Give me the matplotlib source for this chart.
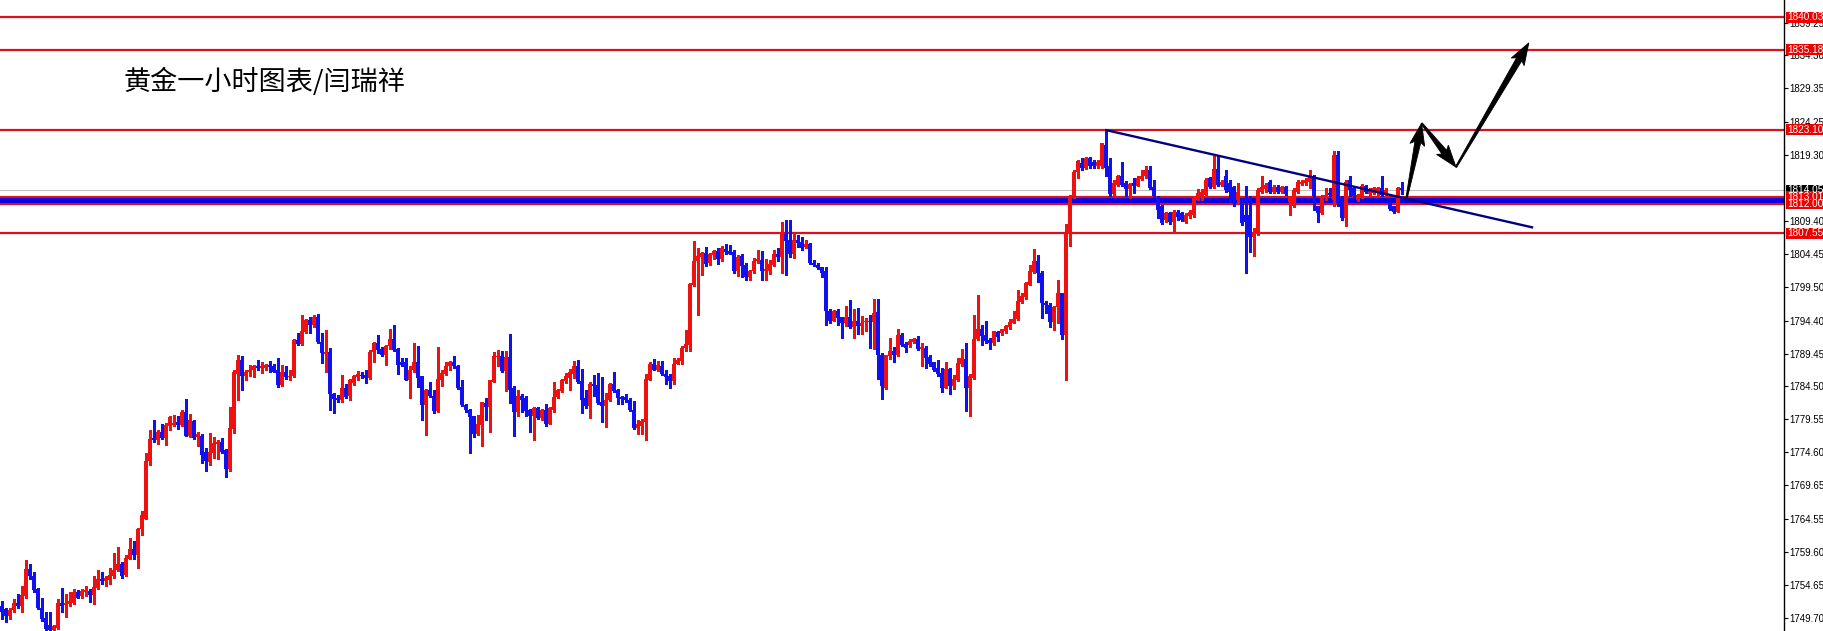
import matplotlib
matplotlib.use('Agg')
import matplotlib.pyplot as plt
import numpy as np
from matplotlib.patches import Polygon, Rectangle
from matplotlib.transforms import IdentityTransform, blended_transform_factory

# ---------------- data (XAUUSD 1H candles) ----------------
opens = [
    1751.4, 1751.0, 1750.0, 1750.8, 1751.9, 1751.5, 1753.0, 1757.0, 1756.0, 1754.0,
    1751.2, 1749.7, 1748.6, 1747.9, 1748.2, 1751.9, 1751.6, 1751.7, 1751.9, 1753.6,
    1752.9, 1753.5, 1753.7, 1753.1, 1754.2, 1755.5, 1755.2, 1755.4, 1756.0, 1756.9,
    1757.7, 1756.1, 1758.6, 1760.0, 1759.2, 1763.0, 1764.6, 1773.2, 1776.7, 1776.5,
    1777.7, 1776.7, 1778.6, 1778.7, 1779.2, 1778.7, 1780.6, 1777.0, 1779.3, 1776.9,
    1777.1, 1774.6, 1773.1, 1774.5, 1775.9, 1776.2, 1774.9, 1772.0, 1778.1, 1786.4,
    1788.5, 1786.0, 1786.6, 1786.9, 1787.5, 1787.2, 1787.3, 1787.7, 1787.5, 1786.9,
    1784.7, 1786.7, 1785.9, 1786.0, 1791.5, 1790.9, 1792.7, 1794.5, 1793.7, 1795.0,
    1791.2, 1789.4, 1789.7, 1783.3, 1782.7, 1782.4, 1784.3, 1783.0, 1785.0, 1785.9,
    1786.2, 1786.2, 1785.8, 1789.7, 1791.1, 1790.2, 1789.2, 1790.6, 1791.6, 1790.1,
    1788.1, 1788.1, 1785.5, 1786.9, 1788.2, 1786.0, 1781.7, 1783.9, 1783.1, 1780.8,
    1785.5, 1786.4, 1787.5, 1788.2, 1787.5, 1784.4, 1781.7, 1781.0, 1780.0, 1777.4,
    1778.7, 1782.0, 1781.4, 1785.2, 1788.9, 1789.1, 1786.8, 1788.9, 1784.3, 1780.6,
    1783.1, 1782.7, 1780.9, 1780.0, 1781.2, 1779.7, 1781.0, 1778.9, 1780.9, 1782.9,
    1783.8, 1785.3, 1785.8, 1786.4, 1787.5, 1785.3, 1782.7, 1781.6, 1784.9, 1784.7,
    1782.2, 1781.5, 1782.4, 1784.9, 1783.9, 1782.9, 1782.9, 1782.5, 1781.0, 1778.3,
    1778.6, 1779.1, 1785.5, 1787.9, 1786.9, 1787.6, 1786.4, 1786.0, 1785.3, 1787.9,
    1788.3, 1790.3, 1790.8, 1799.8, 1803.3, 1804.0, 1804.6, 1803.0, 1804.3, 1804.9,
    1803.6, 1805.2, 1804.9, 1804.8, 1801.9, 1804.1, 1802.8, 1801.0, 1801.8, 1803.3,
    1803.5, 1801.8, 1801.9, 1802.8, 1804.4, 1804.0, 1807.4, 1806.5, 1804.5, 1806.6,
    1806.2, 1805.5, 1805.9, 1803.1, 1802.8, 1802.4, 1801.8, 1795.9, 1794.4, 1795.9,
    1794.9, 1794.0, 1795.0, 1793.5, 1794.4, 1793.6, 1794.2, 1794.3, 1794.2, 1795.7,
    1789.3, 1784.3, 1789.1, 1789.9, 1789.2, 1792.3, 1790.9, 1790.8, 1791.2, 1791.7,
    1790.1, 1790.3, 1788.9, 1788.1, 1787.2, 1786.5, 1784.3, 1787.1, 1784.6, 1785.5,
    1787.8, 1788.6, 1784.2, 1785.8, 1791.6, 1793.1, 1792.2, 1791.5, 1791.0, 1792.7,
    1792.6, 1792.8, 1793.5, 1794.1, 1794.6, 1797.2, 1798.0, 1799.8, 1801.7, 1803.3,
    1801.6, 1797.1, 1796.7, 1794.2, 1796.5, 1798.5, 1792.3, 1807.6, 1813.1, 1816.8,
    1818.1, 1817.3, 1818.8, 1818.3, 1817.7, 1817.6, 1820.8, 1817.6, 1813.4, 1814.8,
    1816.1, 1815.1, 1814.2, 1815.1, 1814.7, 1815.7, 1816.1, 1817.1, 1814.5, 1812.9,
    1811.6, 1809.5, 1810.6, 1809.2, 1810.8, 1810.6, 1809.2, 1810.1, 1810.3, 1812.6,
    1813.2, 1813.3, 1815.8, 1814.5, 1817.2, 1814.8, 1816.2, 1815.1, 1814.5, 1812.6,
    1812.6, 1810.3, 1810.3, 1807.0, 1807.6, 1813.8, 1814.2, 1815.2, 1813.8, 1814.5,
    1813.8, 1814.5, 1812.3, 1811.6, 1813.8, 1815.0, 1815.1, 1815.3, 1816.1, 1811.6,
    1810.6, 1813.0, 1813.6, 1812.6, 1819.3, 1812.8, 1809.8, 1815.6, 1814.3, 1812.6,
    1813.1, 1814.7, 1813.5, 1813.6, 1813.6, 1814.3, 1813.3, 1812.1, 1811.6, 1810.8,
    1814.4,
]
highs = [
    1752.2, 1751.2, 1751.2, 1752.5, 1753.3, 1754.5, 1758.3, 1757.7, 1756.5, 1754.2,
    1752.7, 1750.5, 1750.5, 1748.6, 1752.5, 1754.1, 1753.2, 1753.5, 1754.0, 1753.8,
    1754.0, 1754.4, 1754.0, 1756.0, 1756.9, 1756.5, 1755.9, 1757.2, 1759.4, 1760.4,
    1758.0, 1759.2, 1761.7, 1761.2, 1763.2, 1765.8, 1774.5, 1778.0, 1779.4, 1778.0,
    1778.9, 1779.0, 1780.1, 1780.2, 1780.1, 1780.9, 1782.6, 1780.4, 1779.5, 1777.7,
    1777.3, 1775.2, 1777.5, 1776.9, 1776.5, 1776.8, 1775.1, 1781.4, 1786.9, 1789.2,
    1789.1, 1786.9, 1787.7, 1787.7, 1788.4, 1788.1, 1787.9, 1788.3, 1787.8, 1788.7,
    1787.7, 1787.6, 1786.9, 1791.6, 1792.5, 1795.2, 1794.7, 1795.0, 1795.2, 1795.4,
    1792.5, 1793.0, 1790.3, 1783.5, 1783.2, 1786.2, 1784.9, 1785.6, 1786.2, 1786.8,
    1786.7, 1786.9, 1790.0, 1791.2, 1792.2, 1790.5, 1790.7, 1793.2, 1793.7, 1790.3,
    1788.7, 1788.7, 1787.5, 1791.1, 1790.6, 1786.1, 1784.1, 1785.2, 1784.0, 1790.4,
    1786.9, 1788.2, 1788.3, 1789.0, 1787.7, 1785.5, 1781.9, 1781.1, 1780.1, 1780.2,
    1782.2, 1782.7, 1785.5, 1789.7, 1790.0, 1789.9, 1789.9, 1792.4, 1784.5, 1783.9,
    1783.4, 1783.1, 1781.1, 1781.4, 1781.4, 1781.1, 1781.8, 1781.4, 1785.2, 1784.1,
    1785.6, 1786.5, 1787.1, 1788.3, 1788.4, 1787.1, 1784.0, 1785.1, 1786.2, 1786.5,
    1785.9, 1783.5, 1785.0, 1786.7, 1784.1, 1783.1, 1783.3, 1782.7, 1782.3, 1779.4,
    1779.6, 1786.3, 1788.1, 1788.6, 1788.3, 1788.3, 1787.0, 1786.3, 1788.8, 1788.8,
    1790.6, 1793.0, 1800.1, 1806.4, 1805.3, 1804.8, 1805.5, 1804.6, 1805.0, 1805.4,
    1805.6, 1806.0, 1805.8, 1805.0, 1804.3, 1804.5, 1803.0, 1802.0, 1803.8, 1805.0,
    1804.9, 1803.6, 1803.5, 1805.0, 1805.3, 1809.3, 1809.5, 1809.5, 1807.4, 1807.3,
    1807.0, 1806.5, 1806.1, 1803.5, 1803.0, 1802.5, 1802.5, 1796.1, 1796.0, 1796.1,
    1795.0, 1796.6, 1797.5, 1796.1, 1796.3, 1795.1, 1794.8, 1795.3, 1797.7, 1797.7,
    1789.6, 1789.3, 1791.8, 1790.5, 1793.1, 1792.6, 1791.2, 1791.6, 1791.8, 1792.1,
    1791.1, 1790.6, 1789.2, 1788.2, 1788.5, 1787.3, 1788.1, 1787.2, 1786.2, 1788.8,
    1790.2, 1791.0, 1786.3, 1795.2, 1798.2, 1793.7, 1794.3, 1791.8, 1792.9, 1792.8,
    1793.2, 1793.8, 1794.6, 1795.8, 1799.0, 1798.6, 1800.2, 1802.7, 1805.2, 1804.2,
    1801.8, 1797.3, 1797.0, 1796.6, 1800.5, 1798.6, 1809.0, 1813.3, 1817.1, 1818.6,
    1818.8, 1819.0, 1819.0, 1818.6, 1818.6, 1821.2, 1823.1, 1818.8, 1815.6, 1816.3,
    1818.2, 1815.4, 1815.1, 1815.8, 1816.1, 1817.1, 1817.6, 1817.6, 1815.6, 1813.2,
    1811.8, 1810.8, 1810.8, 1811.1, 1811.1, 1810.8, 1810.6, 1811.0, 1813.1, 1814.2,
    1814.2, 1815.8, 1816.0, 1819.1, 1819.2, 1815.6, 1817.1, 1815.6, 1814.7, 1815.1,
    1812.7, 1814.7, 1813.1, 1808.3, 1814.3, 1816.2, 1815.1, 1815.6, 1814.8, 1814.8,
    1814.7, 1814.7, 1813.1, 1814.3, 1815.6, 1815.6, 1815.8, 1817.0, 1816.3, 1811.7,
    1813.3, 1814.3, 1814.3, 1820.0, 1820.0, 1813.1, 1815.6, 1816.2, 1814.5, 1813.5,
    1815.0, 1814.8, 1814.3, 1814.5, 1814.5, 1816.1, 1814.3, 1812.3, 1811.7, 1814.5,
    1815.3,
]
lows = [
    1749.5, 1749.0, 1749.5, 1750.5, 1751.2, 1750.5, 1752.7, 1755.5, 1753.5, 1751.0,
    1749.2, 1747.8, 1747.7, 1747.7, 1748.0, 1750.5, 1749.8, 1751.5, 1751.7, 1752.6,
    1752.7, 1753.0, 1752.0, 1751.7, 1754.0, 1754.7, 1754.5, 1754.7, 1755.6, 1756.7,
    1755.7, 1756.0, 1758.5, 1758.5, 1757.1, 1762.2, 1764.5, 1772.6, 1776.2, 1775.9,
    1776.6, 1775.7, 1778.0, 1778.5, 1778.1, 1778.6, 1777.0, 1776.9, 1776.6, 1775.5,
    1773.0, 1771.7, 1772.7, 1773.7, 1773.6, 1774.5, 1770.8, 1771.7, 1777.5, 1782.5,
    1783.9, 1785.4, 1786.0, 1785.9, 1787.0, 1786.5, 1786.9, 1786.7, 1786.6, 1784.4,
    1784.5, 1785.6, 1785.5, 1785.9, 1790.7, 1790.7, 1792.5, 1792.5, 1793.5, 1791.1,
    1788.0, 1786.6, 1781.0, 1780.5, 1782.2, 1782.2, 1782.7, 1782.5, 1784.7, 1785.5,
    1785.7, 1785.0, 1785.6, 1788.2, 1789.5, 1789.0, 1787.7, 1790.2, 1789.9, 1786.4,
    1787.6, 1785.4, 1782.7, 1786.7, 1784.4, 1779.5, 1777.2, 1782.9, 1780.5, 1780.7,
    1784.6, 1786.2, 1787.0, 1787.3, 1784.1, 1781.6, 1780.6, 1774.5, 1776.9, 1777.2,
    1775.6, 1779.5, 1777.7, 1785.1, 1787.6, 1786.6, 1783.8, 1782.0, 1777.1, 1780.0,
    1780.6, 1780.1, 1777.6, 1776.4, 1779.6, 1779.5, 1778.6, 1778.8, 1780.6, 1782.8,
    1783.6, 1785.0, 1783.9, 1785.8, 1785.0, 1780.5, 1781.3, 1779.8, 1783.0, 1781.8,
    1779.1, 1778.4, 1782.3, 1783.6, 1781.8, 1781.8, 1782.1, 1780.8, 1778.1, 1777.3,
    1777.3, 1776.5, 1785.4, 1786.9, 1786.8, 1786.2, 1784.9, 1784.3, 1784.8, 1787.8,
    1787.8, 1789.9, 1789.8, 1799.6, 1795.3, 1801.3, 1802.6, 1802.8, 1803.6, 1802.9,
    1803.4, 1804.5, 1804.4, 1801.6, 1801.1, 1801.0, 1800.5, 1800.5, 1801.5, 1803.0,
    1800.5, 1800.5, 1801.4, 1802.6, 1803.3, 1801.6, 1801.3, 1804.0, 1803.8, 1805.5,
    1805.1, 1805.3, 1802.9, 1802.6, 1802.2, 1801.0, 1793.8, 1794.0, 1794.3, 1793.8,
    1791.8, 1793.6, 1793.3, 1791.8, 1792.4, 1792.4, 1792.8, 1790.3, 1790.1, 1785.6,
    1782.6, 1784.1, 1788.6, 1788.2, 1789.1, 1790.6, 1789.7, 1790.5, 1791.0, 1790.0,
    1787.6, 1787.3, 1787.5, 1786.8, 1786.0, 1783.7, 1784.2, 1783.3, 1784.1, 1785.3,
    1787.6, 1780.8, 1780.1, 1785.6, 1791.5, 1790.7, 1791.0, 1790.2, 1790.8, 1791.3,
    1792.3, 1792.6, 1793.2, 1794.0, 1794.5, 1797.0, 1797.7, 1799.7, 1801.6, 1800.2,
    1794.8, 1795.5, 1793.5, 1793.0, 1794.0, 1791.7, 1785.4, 1805.6, 1812.8, 1815.8,
    1817.1, 1817.2, 1817.3, 1817.4, 1817.3, 1817.3, 1816.2, 1813.2, 1813.1, 1814.6,
    1814.6, 1813.1, 1812.9, 1813.6, 1814.6, 1815.6, 1815.8, 1814.2, 1813.0, 1809.9,
    1809.0, 1809.3, 1809.0, 1807.8, 1809.6, 1809.4, 1809.1, 1809.9, 1810.0, 1812.5,
    1812.6, 1813.1, 1814.3, 1814.3, 1814.6, 1814.6, 1813.8, 1812.3, 1811.7, 1812.1,
    1808.8, 1801.6, 1804.8, 1804.1, 1807.3, 1813.6, 1813.7, 1813.6, 1813.6, 1813.6,
    1813.6, 1813.3, 1810.3, 1811.5, 1813.6, 1814.8, 1814.8, 1814.3, 1811.1, 1809.2,
    1810.5, 1812.6, 1813.1, 1811.7, 1811.6, 1809.6, 1808.6, 1813.1, 1812.9, 1812.4,
    1812.8, 1813.6, 1813.3, 1813.4, 1813.1, 1813.1, 1813.2, 1811.1, 1810.6, 1810.7,
    1813.5,
]
closes = [
    1750.6, 1750.0, 1750.8, 1751.9, 1751.5, 1753.1, 1757.0, 1755.9, 1753.9, 1751.1,
    1749.5, 1748.0, 1747.9, 1748.4, 1751.9, 1751.5, 1751.9, 1752.2, 1753.6, 1752.7,
    1753.7, 1753.8, 1753.1, 1754.3, 1755.5, 1755.2, 1755.6, 1756.1, 1756.9, 1757.7,
    1756.0, 1758.7, 1760.0, 1759.2, 1763.1, 1765.1, 1773.2, 1776.6, 1776.4, 1777.7,
    1776.8, 1778.7, 1779.9, 1779.0, 1778.7, 1780.6, 1777.1, 1779.4, 1776.7, 1777.4,
    1774.2, 1773.3, 1774.6, 1776.0, 1776.2, 1774.6, 1772.1, 1778.2, 1786.6, 1788.5,
    1786.0, 1786.7, 1787.0, 1787.5, 1787.2, 1787.6, 1787.7, 1787.4, 1786.7, 1784.7,
    1786.7, 1785.9, 1786.1, 1791.5, 1790.9, 1792.8, 1794.5, 1793.7, 1795.0, 1791.2,
    1789.5, 1789.7, 1783.3, 1782.6, 1782.4, 1784.2, 1782.9, 1785.4, 1786.0, 1786.4,
    1786.0, 1785.8, 1789.7, 1791.1, 1790.0, 1789.2, 1790.6, 1791.6, 1790.0, 1787.7,
    1787.7, 1785.5, 1787.0, 1788.2, 1785.8, 1781.7, 1783.9, 1783.0, 1780.8, 1785.6,
    1786.5, 1787.6, 1788.2, 1787.5, 1784.2, 1781.7, 1780.9, 1779.9, 1777.4, 1778.9,
    1782.1, 1781.4, 1785.4, 1789.1, 1789.1, 1786.8, 1788.9, 1784.0, 1780.6, 1783.1,
    1782.5, 1780.8, 1780.0, 1781.2, 1779.7, 1781.0, 1778.9, 1781.2, 1782.9, 1783.9,
    1785.4, 1786.0, 1786.6, 1787.5, 1785.2, 1782.5, 1781.6, 1784.9, 1784.5, 1782.0,
    1781.5, 1782.5, 1784.9, 1783.8, 1782.8, 1782.6, 1782.4, 1780.9, 1778.3, 1778.8,
    1779.3, 1785.6, 1787.9, 1787.0, 1787.7, 1786.3, 1785.9, 1785.3, 1787.9, 1788.4,
    1790.3, 1790.9, 1799.9, 1803.4, 1804.1, 1804.6, 1802.9, 1804.4, 1804.9, 1803.6,
    1805.4, 1804.7, 1804.5, 1801.9, 1804.0, 1802.6, 1801.0, 1801.9, 1803.4, 1803.6,
    1801.8, 1802.1, 1802.9, 1804.4, 1804.0, 1807.8, 1806.4, 1804.5, 1806.5, 1806.1,
    1805.4, 1806.0, 1803.0, 1802.8, 1802.3, 1801.6, 1795.8, 1794.4, 1795.8, 1794.8,
    1794.0, 1794.9, 1793.5, 1794.4, 1793.6, 1794.1, 1794.4, 1794.2, 1795.6, 1789.2,
    1784.5, 1789.2, 1789.9, 1789.2, 1792.3, 1790.8, 1790.3, 1791.3, 1791.7, 1790.1,
    1790.4, 1788.7, 1787.8, 1787.0, 1786.3, 1784.3, 1787.1, 1784.6, 1785.6, 1788.0,
    1788.7, 1784.2, 1786.0, 1791.7, 1793.1, 1792.1, 1791.3, 1791.0, 1792.8, 1792.0,
    1793.1, 1793.6, 1794.2, 1794.7, 1797.3, 1798.1, 1800.1, 1801.8, 1803.3, 1801.5,
    1797.1, 1796.7, 1794.2, 1796.5, 1798.5, 1792.3, 1807.6, 1813.1, 1816.8, 1818.4,
    1817.3, 1818.8, 1817.6, 1817.6, 1818.3, 1821.1, 1817.4, 1813.4, 1815.1, 1816.1,
    1814.8, 1814.2, 1815.0, 1814.7, 1815.9, 1816.2, 1817.1, 1814.4, 1813.1, 1811.0,
    1809.1, 1810.6, 1809.2, 1810.8, 1810.0, 1809.6, 1810.3, 1810.8, 1812.8, 1813.6,
    1813.8, 1815.6, 1814.5, 1817.2, 1814.8, 1815.3, 1814.1, 1813.8, 1812.6, 1813.8,
    1809.1, 1809.3, 1807.0, 1807.8, 1814.1, 1814.5, 1814.8, 1813.8, 1814.5, 1813.8,
    1814.5, 1813.5, 1813.0, 1814.1, 1815.2, 1815.3, 1815.6, 1816.1, 1813.1, 1810.6,
    1813.1, 1813.3, 1813.3, 1819.3, 1812.6, 1809.8, 1815.3, 1814.1, 1813.1, 1813.3,
    1814.6, 1813.8, 1814.1, 1814.3, 1814.3, 1813.3, 1814.1, 1811.2, 1810.7, 1814.3,
    1814.05,
]

# horizontal levels
level_lines = [1840.03, 1835.18, 1823.10, 1807.55]
zone_top = 1813.01
zone_bottom = 1812.00
bid_price = 1814.05

# trend line (bar index, price)
trend_x = [275.9, 382.9]
trend_y = [1823.1, 1808.4]

# forecast arrows (bar index, price): start -> tip
arrow_x0 = [351.3, 355.0, 363.6]
arrow_y0 = [1813.0, 1824.1, 1817.5]
arrow_x1 = [355.0, 363.6, 381.8]
arrow_y1 = [1824.1, 1817.5, 1836.2]

# right price scale
tick_values = [1839.25, 1834.30, 1829.35, 1824.25, 1819.30, 1809.40, 1804.45,
               1799.50, 1794.40, 1789.45, 1784.50, 1779.55, 1774.60, 1769.65,
               1764.55, 1759.60, 1754.65, 1749.70]
tick_labels = ['%.2f' % v for v in tick_values]
box_values = [1840.03, 1835.18, 1823.10, 1814.05, 1812.00, 1813.01, 1807.55]
box_colors = ['red', 'red', 'red', 'black', 'red', 'red', 'red']

title = '黄金一小时图表/闫瑞祥'

# ---------------- drawing ----------------
plt.rcParams['font.family'] = ['Liberation Sans', 'DejaVu Sans']
W, H = 1824, 631
AX_W = 1784
fig = plt.figure(figsize=(W / 100, H / 100), dpi=100)
fig.patch.set_facecolor('white')
ax = fig.add_axes([0, 0, AX_W / W, 1])
ax.set_facecolor('white')

RED = '#F01010'
BLUE = '#1010F0'
LINE_RED = '#D81020'

n = len(closes)
x = np.arange(n)
o = np.array(opens)
h = np.array(highs)
l = np.array(lows)
c = np.array(closes)

ax.set_xlim(-0.42, 445.6)
ax.set_ylim(1747.69, 1842.65)

# levels
for v in level_lines:
    ax.axhline(v, color=LINE_RED, lw=1.6, zorder=1)
ax.axhline(bid_price, color='#C0C0C0', lw=0.8, zorder=1)
ax.axhspan(zone_bottom, zone_top, color='#0000F0', lw=0, zorder=1.2)
ax.axhline(zone_top, color=LINE_RED, lw=1.6, zorder=1.3)
ax.axhline(zone_bottom, color=LINE_RED, lw=1.6, zorder=1.3)

# candles
up = c >= o
cols = np.where(up, RED, BLUE)
ax.vlines(x, l, h, colors=cols, lw=0.9, zorder=3, antialiased=False)
body_bottom = np.minimum(o, c)
body_h = np.maximum(np.abs(c - o), 0.16)
ax.bar(x, body_h, bottom=body_bottom, width=0.76, color=cols, lw=0,
       zorder=3.1, antialiased=False)

# trend line
ax.plot(trend_x, trend_y, color='#000080', lw=1.7, zorder=4,
        solid_capstyle='butt')

# axes styling
for s in ['left', 'top', 'bottom']:
    ax.spines[s].set_visible(False)
ax.spines['right'].set_color('black')
ax.spines['right'].set_linewidth(1.0)
ax.set_xticks([])
ax.yaxis.tick_right()
ax.set_yticks(tick_values)
ax.set_yticklabels(tick_labels)
ax.tick_params(axis='y', direction='out', length=3, width=0.8, pad=1.0,
               labelsize=7.0, colors='black')

# price boxes on the scale
trans = blended_transform_factory(ax.transAxes, ax.transData)
hh = 5.5 / 6.645
for v, col in zip(box_values, box_colors):
    fc = '#EE0000' if col == 'red' else 'black'
    ax.add_patch(Rectangle((1 + 1.5 / AX_W, v - hh), (W - AX_W) / AX_W, 2 * hh,
                           transform=trans, clip_on=False, facecolor=fc,
                           edgecolor='none', zorder=10))
    ax.text(1 + 21.0 / AX_W, v, '%.2f' % v, transform=trans, ha='center',
            va='center', color='white', fontsize=7.2, clip_on=False, zorder=11)

# title
ax.text(124 / AX_W, 1 - 82 / H, title, transform=ax.transAxes, ha='left',
        va='center', fontsize=19.5, color='black',
        family=['Noto Sans CJK SC', 'DejaVu Sans'], zorder=6)


# arrows drawn as tapered polygons in pixel space
def arrow_poly(p0, p1, w0=0.7, w1=3.0, hl=19.0, hw=7.5):
    p0 = np.asarray(p0, float)
    p1 = np.asarray(p1, float)
    d = p1 - p0
    d = d / np.hypot(*d)
    nrm = np.array([-d[1], d[0]])
    b = p1 - d * hl
    wing = p1 - d * (hl + 3)
    return [p0 + nrm * w0, b + nrm * w1, wing + nrm * hw, p1,
            wing - nrm * hw, b - nrm * w1, p0 - nrm * w0]


for xs, ys, xe, ye in zip(arrow_x0, arrow_y0, arrow_x1, arrow_y1):
    p0 = ax.transData.transform((xs, ys))
    p1 = ax.transData.transform((xe, ye))
    poly = Polygon(arrow_poly(p0, p1), closed=True, facecolor='black',
                   edgecolor='black', lw=0.6, transform=IdentityTransform(),
                   zorder=20)
    fig.add_artist(poly)

fig.savefig('out.png', dpi=100, facecolor='white')
